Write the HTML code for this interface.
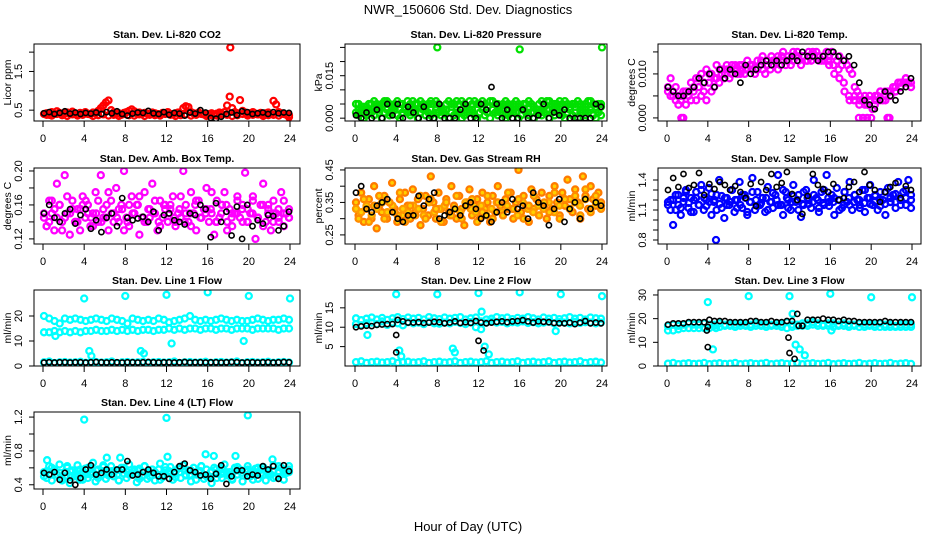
<!DOCTYPE html>
<html><head><meta charset="utf-8"><title>NWR_150606 Std. Dev. Diagnostics</title>
<style>
html,body{margin:0;padding:0;background:#fff;}
svg{display:block;font-family:"Liberation Sans",Arial,sans-serif;}
</style></head>
<body>
<svg id="chart" width="936" height="540" viewBox="0 0 936 540" xmlns="http://www.w3.org/2000/svg">
<rect x="0" y="0" width="936" height="540" fill="#fff"/>
<text x="468" y="14" text-anchor="middle" font-size="13">NWR_150606  Std. Dev. Diagnostics</text>
<text x="468" y="531" text-anchor="middle" font-size="13">Hour of Day (UTC)</text>
</svg>
<script>
const NS="http://www.w3.org/2000/svg";
const xTicks=[0,4,8,12,16,20,24];

// ---- CO2 ----
const co2Red=[0.40,0.42,0.38,0.45,0.40,0.47,0.43,0.39,0.41,0.44,0.40,0.46,0.42,0.38,0.43,0.40,0.45,0.41,0.39,0.44,0.42,0.48,0.55,0.62,0.70,0.75,0.50,0.44,0.40,0.42,0.38,0.43,0.45,0.48,0.52,0.47,0.42,0.44,0.40,0.43,0.41,0.39,0.44,0.42,0.40,0.38,0.43,0.41,0.45,0.40,0.39,0.42,0.44,0.40,0.55,0.60,0.58,0.45,0.42,0.40,0.44,0.41,0.39,0.36,0.40,0.42,0.38,0.41,0.44,0.40,0.45,0.62,0.85,0.55,0.45,0.42,0.76,0.48,0.44,0.40,0.42,0.45,0.41,0.39,0.43,0.40,0.42,0.44,0.40,0.74,0.65,0.45,0.42,0.40,0.38,0.32];
const co2Red2=[0.38,0.36,0.40,0.37,0.35,0.39,0.36,0.38,0.40,0.35,0.37,0.39,0.36,0.38,0.35,0.40,0.37,0.36,0.39,0.35,0.38,0.37,0.36,0.40,0.38,0.35,0.37,0.39,0.36,0.38,0.40,0.35,0.37,0.36,0.39,0.38,0.35,0.37,0.40,0.36,0.38,0.39,0.35,0.37,0.38,0.36,0.40,0.37];
const co2OutT=[18.2];
const co2OutV=[2.12];
const co2Black=[0.42,0.45,0.40,0.43,0.47,0.41,0.44,0.40,0.43,0.41,0.44,0.40,0.45,0.42,0.47,0.40,0.36,0.41,0.44,0.43,0.48,0.42,0.40,0.45,0.38,0.43,0.41,0.36,0.44,0.41,0.50,0.44,0.30,0.28,0.33,0.40,0.44,0.37,0.47,0.45,0.40,0.42,0.44,0.40,0.45,0.42,0.44,0.43];
const co2YTicks=[0.5,1.0,1.5,2.0];
const co2YLabels=["0.5","","1.5",""];

// ---- Pressure ----
const presHi=[0.005,0.005,0.004,0.003,0.004,0.005,0.005,0.006,0.005,0.004,0.005,0.006,0.006,0.005,0.004,0.005,0.006,0.005,0.005,0.004,0.006,0.005,0.006,0.005,0.005,0.006,0.005,0.004,0.005,0.006,0.005,0.006,0.005,0.004,0.003,0.005,0.006,0.005,0.005,0.006,0.005,0.006,0.005,0.004,0.006,0.005,0.006,0.005,0.005,0.006,0.005,0.004,0.006,0.006,0.005,0.005,0.004,0.005,0.006,0.005,0.004,0.005,0.006,0.005,0.004,0.005,0.005,0.006,0.005,0.004,0.003,0.005,0.006,0.005,0.006,0.006,0.005,0.004,0.005,0.006,0.005,0.006,0.005,0.004,0.005,0.005,0.006,0.005,0.004,0.005,0.006,0.006,0.005,0.004,0.005,0.005];
const presLo=[0.002,0.001,0.002,0.000,0.001,0.003,0.002,0.001,0.003,0.002,0.000,0.002,0.003,0.001,0.002,0.003,0.001,0.000,0.002,0.003,0.002,0.001,0.003,0.002,0.000,0.002,0.003,0.001,0.002,0.001,0.000,0.003,0.002,0.001,0.002,0.003,0.000,0.002,0.001,0.003,0.002,0.000,0.001,0.002,0.003,0.002,0.001,0.000,0.002,0.003,0.001,0.002,0.000,0.003,0.002,0.001,0.002,0.003,0.000,0.001,0.002,0.003,0.002,0.000,0.001,0.003,0.002,0.001,0.002,0.000,0.003,0.002,0.001,0.002,0.003,0.000,0.002,0.001,0.003,0.002,0.001,0.000,0.002,0.003,0.001,0.002,0.000,0.003,0.002,0.001,0.002,0.003,0.001,0.000,0.002,0.001];
const presMid=[0.003,0.004,0.002,0.004,0.003,0.005,0.002,0.004,0.003,0.004,0.002,0.003,0.004,0.003,0.005,0.002,0.004,0.003,0.004,0.002,0.003,0.004,0.003,0.005,0.004,0.002,0.003,0.004,0.003,0.005,0.002,0.004,0.003,0.004,0.002,0.003,0.004,0.003,0.005,0.002,0.004,0.003,0.004,0.002,0.003,0.004,0.003,0.004];
const presOutT=[8,16,24];
const presOutV=[0.0250,0.0243,0.0250];
const presBlack=[0.001,0.000,0.002,0.000,0.003,0.000,0.005,0.001,0.005,0.000,0.004,0.002,0.000,0.004,0.000,0.000,0.005,0.000,0.000,0.000,0.003,0.005,0.000,0.000,0.005,0.003,0.011,0.005,0.000,0.003,0.000,0.000,0.003,0.000,0.000,0.001,0.005,0.000,0.002,0.001,0.003,0.000,0.000,0.000,0.000,0.000,0.005,0.004];
const presYTicks=[0,0.005,0.010,0.015,0.020,0.025];
const presYLabels=["0.000","","","0.015","",""];

// ---- Li-820 Temp ----
const tempMag=[0.007,0.009,0.006,0.007,0.005,0.004,0.006,0.003,0.005,0.004,0.006,0.004,0.007,0.005,0.006,0.004,0.008,0.006,0.007,0.009,0.008,0.010,0.009,0.011,0.009,0.010,0.011,0.010,0.012,0.011,0.010,0.011,0.012,0.011,0.010,0.011,0.012,0.011,0.010,0.012,0.011,0.012,0.013,0.011,0.012,0.013,0.012,0.013,0.012,0.013,0.014,0.013,0.012,0.014,0.013,0.014,0.013,0.014,0.015,0.014,0.013,0.014,0.015,0.014,0.015,0.014,0.013,0.014,0.012,0.013,0.012,0.011,0.010,0.007,0.006,0.005,0.004,0.005,0.003,0.004,0.002,0.004,0.005,0.006,0.004,0.005,0.006,0.005,0.007,0.006,0.008,0.007,0.008,0.009,0.008,0.007];
const tempMag2=[0.006,0.005,0.003,0.005,0.006,0.007,0.009,0.008,0.010,0.009,0.011,0.010,0.011,0.012,0.010,0.011,0.012,0.011,0.013,0.012,0.014,0.013,0.014,0.013,0.014,0.015,0.014,0.013,0.015,0.014,0.014,0.013,0.012,0.011,0.008,0.005,0.004,0.003,0.004,0.005,0.003,0.004,0.006,0.005,0.007,0.008,0.009,0.007];
const tempMag3=[0.005,0.004,0.005,0.006,0.008,0.009,0.010,0.011,0.010,0.012,0.011,0.012,0.012,0.011,0.012,0.013,0.012,0.013,0.014,0.013,0.013,0.014,0.015,0.014,0.015,0.014,0.014,0.015,0.014,0.013,0.013,0.012,0.010,0.009,0.006,0.004,0.005,0.004,0.003,0.004,0.005,0.006,0.004,0.006,0.006,0.007,0.008,0.008];
const tempOutT=[1.4,1.6,18.8,19.2,19.6,20.0,21.6,21.8];
const tempOutV=[0,0,0,0,0,0,0,0];
const tempBlack=[0.007,0.006,0.005,0.005,0.006,0.007,0.009,0.008,0.010,0.007,0.011,0.009,0.011,0.010,0.008,0.012,0.010,0.011,0.012,0.013,0.012,0.013,0.012,0.013,0.014,0.013,0.015,0.014,0.014,0.013,0.014,0.015,0.015,0.014,0.013,0.014,0.012,0.008,0.004,0.003,0.002,0.004,0.006,0.005,0.004,0.006,0.007,0.009];
const tempYTicks=[0,0.005,0.010,0.015];
const tempYLabels=["0.000","","0.010",""];

// ---- Amb Box Temp ----
const ambMag=[0.145,0.135,0.165,0.150,0.130,0.185,0.160,0.140,0.195,0.150,0.125,0.165,0.140,0.155,0.130,0.170,0.145,0.160,0.135,0.150,0.175,0.140,0.195,0.155,0.145,0.130,0.165,0.150,0.180,0.140,0.160,0.200,0.145,0.135,0.170,0.150,0.160,0.125,0.145,0.175,0.140,0.155,0.185,0.150,0.130,0.165,0.145,0.160,0.140,0.155,0.170,0.135,0.150,0.145,0.200,0.160,0.140,0.175,0.150,0.130,0.165,0.145,0.155,0.180,0.140,0.150,0.125,0.165,0.145,0.160,0.175,0.140,0.155,0.135,0.150,0.170,0.145,0.160,0.198,0.140,0.150,0.165,0.120,0.145,0.160,0.185,0.140,0.155,0.130,0.165,0.150,0.145,0.175,0.135,0.150,0.145];
const ambMag2=[0.150,0.140,0.155,0.160,0.145,0.150,0.140,0.155,0.165,0.145,0.150,0.140,0.160,0.150,0.145,0.155,0.140,0.150,0.160,0.145,0.155,0.150,0.140,0.160,0.150,0.145,0.155,0.140,0.150,0.160,0.145,0.150,0.155,0.140,0.150,0.160,0.145,0.150,0.155,0.140,0.150,0.145,0.160,0.150,0.140,0.155,0.150,0.145];
const ambMag3=[0.135,0.165,0.145,0.130,0.170,0.155,0.140,0.160,0.150,0.135,0.165,0.145,0.175,0.140,0.155,0.130,0.160,0.150,0.170,0.140,0.145,0.165,0.135,0.155,0.160,0.140,0.170,0.150,0.135,0.165,0.145,0.155,0.175,0.140,0.160,0.130,0.150,0.165,0.140,0.155,0.170,0.145,0.135,0.160,0.150,0.140,0.165,0.155];
const ambBlack=[0.150,0.160,0.145,0.140,0.150,0.155,0.138,0.148,0.155,0.132,0.142,0.128,0.145,0.150,0.135,0.168,0.145,0.142,0.144,0.146,0.140,0.152,0.130,0.148,0.150,0.142,0.140,0.137,0.150,0.148,0.160,0.155,0.122,0.162,0.140,0.152,0.124,0.158,0.120,0.160,0.135,0.142,0.138,0.148,0.147,0.130,0.135,0.152];
const ambYTicks=[0.12,0.14,0.16,0.18,0.20];
const ambYLabels=["0.12","","0.16","","0.20"];

// ---- Gas Stream RH ----
const rhOrange=[0.35,0.31,0.38,0.29,0.33,0.36,0.30,0.40,0.27,0.34,0.32,0.37,0.30,0.35,0.41,0.33,0.29,0.36,0.31,0.38,0.34,0.30,0.39,0.32,0.36,0.28,0.33,0.37,0.31,0.43,0.35,0.30,0.38,0.33,0.29,0.36,0.32,0.40,0.34,0.30,0.37,0.33,0.28,0.35,0.39,0.31,0.34,0.36,0.30,0.38,0.33,0.35,0.29,0.37,0.32,0.40,0.34,0.31,0.36,0.33,0.38,0.30,0.35,0.45,0.32,0.37,0.34,0.29,0.39,0.33,0.36,0.31,0.38,0.34,0.30,0.37,0.33,0.40,0.35,0.31,0.38,0.34,0.42,0.36,0.32,0.39,0.35,0.30,0.43,0.37,0.33,0.40,0.36,0.34,0.38,0.35];
const rhOrange2=[0.33,0.32,0.34,0.31,0.33,0.35,0.32,0.34,0.31,0.33,0.32,0.34,0.33,0.31,0.35,0.32,0.33,0.34,0.31,0.33,0.32,0.35,0.33,0.32,0.34,0.31,0.33,0.35,0.32,0.34,0.33,0.31,0.35,0.33,0.32,0.34,0.33,0.35,0.32,0.34,0.36,0.33,0.35,0.34,0.36,0.33,0.35,0.34];
const rhOrange3=[0.30,0.36,0.29,0.34,0.37,0.30,0.35,0.32,0.38,0.29,0.34,0.31,0.37,0.30,0.36,0.33,0.29,0.35,0.31,0.37,0.30,0.34,0.36,0.29,0.32,0.37,0.30,0.35,0.31,0.38,0.33,0.36,0.30,0.34,0.37,0.31,0.35,0.32,0.38,0.30,0.36,0.33,0.37,0.31,0.39,0.32,0.37,0.33];
const rhBlack=[0.38,0.40,0.33,0.32,0.34,0.35,0.36,0.32,0.30,0.29,0.31,0.31,0.37,0.34,0.36,0.38,0.30,0.31,0.32,0.33,0.31,0.34,0.35,0.33,0.30,0.31,0.29,0.32,0.35,0.32,0.36,0.33,0.34,0.30,0.38,0.35,0.34,0.28,0.33,0.36,0.29,0.33,0.35,0.30,0.36,0.33,0.35,0.34];
const rhYTicks=[0.25,0.30,0.35,0.40,0.45];
const rhYLabels=["0.25","","0.35","","0.45"];

// ---- Sample Flow ----
const flowBlue=[1.15,1.20,0.95,1.10,1.25,1.05,1.18,1.30,1.12,1.22,1.08,1.28,1.15,1.35,1.10,1.20,1.32,1.05,1.18,1.25,1.40,1.12,1.02,1.22,1.15,1.30,1.08,1.20,1.38,1.12,1.25,1.05,1.18,1.42,1.10,1.28,1.15,1.22,1.08,1.33,1.18,1.12,1.25,1.45,1.15,1.05,1.28,1.20,1.10,1.35,1.18,1.25,1.03,1.15,1.30,1.20,1.12,1.40,1.22,1.08,1.28,1.15,1.45,1.18,1.25,1.05,1.32,1.20,1.12,1.28,1.18,1.38,1.10,1.25,1.20,1.15,1.30,1.08,1.22,1.35,1.15,1.25,1.10,1.28,1.20,1.05,1.32,1.18,1.25,1.12,1.38,1.20,1.28,1.15,1.40,1.12];
const flowBlue2=[1.18,1.20,1.15,1.22,1.17,1.20,1.15,1.22,1.18,1.20,1.16,1.22,1.18,1.20,1.15,1.22,1.18,1.20,1.17,1.22,1.18,1.20,1.15,1.22,1.18,1.20,1.16,1.22,1.18,1.20,1.17,1.22,1.18,1.20,1.15,1.22,1.18,1.20,1.17,1.22,1.18,1.20,1.16,1.22,1.18,1.20,1.22,1.25];
const flowBlue3=[1.10,1.25,1.12,1.28,1.08,1.22,1.30,1.14,1.26,1.10,1.24,1.15,1.30,1.12,1.25,1.08,1.28,1.14,1.22,1.10,1.27,1.15,1.30,1.12,1.24,1.10,1.28,1.16,1.25,1.12,1.30,1.14,1.22,1.10,1.28,1.15,1.25,1.12,1.30,1.16,1.24,1.14,1.28,1.18,1.26,1.15,1.30,1.20];
const flowOutT=[4.8];
const flowOutV=[0.80];
const flowBlack=[1.30,1.42,1.33,1.46,1.32,1.35,1.47,1.25,1.36,1.31,1.38,1.35,1.30,1.34,1.28,1.22,1.36,1.14,1.38,1.30,1.46,1.33,1.37,1.48,1.26,1.20,1.06,1.24,1.46,1.35,1.31,1.28,1.36,1.20,1.22,1.33,1.38,1.28,1.48,1.35,1.30,1.18,1.28,1.33,1.37,1.22,1.34,1.30];
const flowYTicks=[0.8,0.9,1.0,1.1,1.2,1.3,1.4];
const flowYLabels=["0.8","","","1.1","","","1.4"];

// ---- Line 1 ----
const l1Upper=[20,19,18,17,19,18.5,19,18.5,18,18.5,19,18.5,18,19,18.5,18,17,19,18.5,18,18.5,18,19,18.5,17.5,18,18.5,19,20,18.5,18,18.5,18,18.5,19,18.5,18,18.5,18,18,18.5,19,18.5,18,18.5,18.5,19,18.5];
const l1Lower=[13.5,13.5,14,13.5,14,13.5,14,13.5,14,14,14.5,14,14,14.5,14,14.5,14,14.5,14,14.5,14.5,14,14.5,14.5,15,14.5,15,14.5,15,15,14.5,15,15,14.5,15,15,14.5,15,15,15,14.5,15,15,15,15,14.5,15,15];
const l1Low=[1.5,1.8,1.2,1.5,1.6,1.4,1.5,1.7,1.3,1.5,1.6,1.4,1.5,1.8,1.2,1.5,1.6,1.4,1.5,1.7,1.3,1.5,1.6,1.4,1.5,1.8,1.2,1.5,1.6,1.4,1.5,1.7,1.3,1.5,1.6,1.4,1.5,1.8,1.2,1.5,1.6,1.4,1.5,1.7,1.3,1.5,1.6,1.4];
const l1OutT=[1.2,4,4.5,4.7,8,9.5,9.8,12,12.5,16,19.5,20,24];
const l1OutV=[12,27,6,4,28,6,5,28.5,9,29.5,10,28,27];
const l1Black=[1.4,1.5,1.4,1.5,1.5,1.4,1.5,1.5,1.4,1.5,1.6,1.5,1.4,1.5,1.5,1.4,1.5,1.5,1.4,1.5,1.6,1.5,1.4,1.5,1.5,1.4,1.5,1.6,1.4,1.5,1.5,1.4,1.5,1.5,1.4,1.5,1.6,1.5,1.4,1.5,1.5,1.4,1.5,1.5,1.4,1.5,1.6,1.5];
const l1YTicks=[0,10,20];
const l1YLabels=["0","10","20"];

// ---- Line 2 ----
const l2BandA=[12.3,11.8,12.2,12.5,12,12.4,11.9,12.3,12.6,12.1,12.5,12.2,12.4,12,12.6,12.3,12.1,12.5,12.2,12.4,12.6,12,12.3,12.5,11.5,12,12.2,12.6,12.3,12.5,12.1,12.4,12.2,12.6,12.3,12,12.5,12.2,12.4,12.1,12.3,12.6,12.2,12.4,12,12.5,12.3,12.2];
const l2BandB=[10.8,10.5,11,11.2,10.8,11.5,10.6,11.2,11,10.5,11.3,11,11.2,10.8,11.4,11,10.9,11.2,11,11.4,11.1,10.8,11.3,10,9.5,11.2,11.5,11.2,11.4,11,11.3,11.2,11.5,11.1,11.3,11,11.2,11.4,11,11.3,11.2,11,11.4,11.1,11.3,11.2,11,11.2];
const l2Low=[1,1.2,0.8,1,1.1,0.9,1,1.2,0.8,1,1.1,0.9,1,1.2,0.8,1,1.1,0.9,1,1.2,0.8,1,1.1,0.9,1,1.2,0.8,1,1.1,0.9,1,1.2,0.8,1,1.1,0.9,1,1.2,0.8,1,1.1,0.9,1,1.2,0.8,1,1.1,0.9];
const l2OutT=[1.2,4,4.3,4.5,8,9.5,9.7,12,12.3,12.6,13,16,19.5,20,24];
const l2OutV=[8,18.5,4,2.5,18.5,4.5,3.5,18.8,14,5,3,19,9,18.5,18];
const l2Black=[10,10.2,10.4,10.3,10.6,10.7,10.8,10.8,11.9,11.5,11.2,11.2,11.3,11.1,11.2,11.4,11.3,11,11.2,11.5,11.1,11.3,11.1,11.6,11.2,11,11.2,11.4,11.5,11.3,11.5,11.6,11.8,11.5,11.2,11.5,11.4,11.3,11.1,11,11,11.2,10.8,11.2,11.6,11,11.2,11];
const l2BlackOutT=[4,4,12,12.5];
const l2BlackOutV=[3.5,8,6.5,4];
const l2YTicks=[5,10,15];
const l2YLabels=["5","10","15"];

// ---- Line 3 ----
const l3BandA=[17,17.5,17,17.5,18,17.5,17.5,18,17.5,17.5,18,17.5,17.5,17.5,18,17.5,17.5,18,17.5,17.5,17.5,18,17.5,18.5,17.5,17.5,18,18,18.5,18,17.5,18,18,17.5,18,17.5,17.5,18,17.5,17.5,17.5,18,17.5,17.5,17,17.5,17.5,17.5];
const l3BandB=[15,15,15.5,16,16,16,16,16,16,17,16.5,17,17,16.5,17,17,16.5,17,17,16.5,17,17,16.5,16,16.5,17,17,17,17.5,17,17,17,16.5,17,17,16.5,17,16.5,16.5,17,16.5,16.5,16.5,16.5,16.5,16.5,16.5,16.5];
const l3Low=[1,1.3,0.8,1,1.2,0.9,1,1.3,0.8,1,1.2,0.9,1,1.3,0.8,1,1.2,0.9,1,1.3,0.8,1,1.2,0.9,1,1.3,0.8,1,1.2,0.9,1,1.3,0.8,1,1.2,0.9,1,1.3,0.8,1,1.2,0.9,1,1.3,0.8,1,1.2,0.9];
const l3OutT=[4,4.5,4.8,8,12,12.3,12.6,13,13.5,16,16.1,20,24];
const l3OutV=[27,7,16,29.5,29.5,22,9,7,4.5,30.5,15,29,29];
const l3Black=[17.5,18,18,18,18.5,18.5,18.5,18.5,19.5,19,19,19,18.5,18.5,18.5,18.5,19,19,18.5,18.5,19,18.5,18.5,19,19,22,17,19.5,19.5,19.5,20,19.5,19.5,19,19.5,19,19,18.5,18.5,18.5,18.5,18.5,19,18.5,18.5,18.5,18.5,18.5];
const l3BlackOutT=[3.9,4,4,11.9,12,12.5,12.9];
const l3BlackOutV=[15,16.5,8,12,5.5,3,17];
const l3YTicks=[0,10,20,30];
const l3YLabels=["0","10","20","30"];

// ---- Line 4 ----
const l4Cyan=[0.50,0.56,0.62,0.45,0.58,0.52,0.64,0.47,0.55,0.60,0.42,0.57,0.50,0.63,0.46,0.55,0.59,0.48,0.52,0.66,0.44,0.58,0.51,0.61,0.47,0.55,0.62,0.50,0.57,0.45,0.60,0.53,0.48,0.64,0.52,0.56,0.43,0.59,0.50,0.62,0.47,0.55,0.58,0.45,0.52,0.65,0.49,0.57,0.54,0.61,0.46,0.55,0.59,0.48,0.63,0.51,0.57,0.44,0.60,0.52,0.55,0.62,0.47,0.58,0.50,0.42,0.60,0.53,0.57,0.48,0.64,0.51,0.55,0.46,0.60,0.52,0.58,0.44,0.56,0.62,0.50,0.55,0.59,0.47,0.53,0.61,0.45,0.57,0.52,0.63,0.49,0.56,0.60,0.46,0.54,0.62];
const l4Cyan2=[0.55,0.52,0.57,0.54,0.50,0.56,0.53,0.58,0.52,0.55,0.57,0.51,0.54,0.56,0.52,0.58,0.55,0.53,0.57,0.51,0.55,0.54,0.58,0.52,0.56,0.53,0.55,0.57,0.52,0.54,0.56,0.51,0.55,0.58,0.53,0.55,0.52,0.57,0.54,0.56,0.52,0.55,0.58,0.53,0.56,0.54,0.57,0.55];
const l4Cyan3=[0.48,0.60,0.52,0.45,0.62,0.50,0.57,0.46,0.60,0.53,0.48,0.63,0.51,0.56,0.45,0.60,0.52,0.58,0.47,0.62,0.50,0.55,0.46,0.61,0.53,0.49,0.60,0.52,0.57,0.46,0.62,0.50,0.56,0.48,0.60,0.53,0.47,0.61,0.51,0.58,0.46,0.60,0.52,0.56,0.48,0.62,0.54,0.58];
const l4OutT=[0.4,4,6.2,7.5,12,12.1,15.8,16.6,18.7,19.9,22.3];
const l4OutV=[0.69,1.17,0.72,0.72,1.19,0.73,0.76,0.74,0.74,1.22,0.70];
const l4Black=[0.54,0.52,0.55,0.46,0.54,0.45,0.40,0.48,0.58,0.63,0.52,0.54,0.58,0.52,0.58,0.58,0.68,0.51,0.52,0.55,0.58,0.54,0.50,0.50,0.47,0.55,0.62,0.65,0.57,0.55,0.51,0.52,0.47,0.53,0.63,0.41,0.50,0.57,0.57,0.50,0.52,0.51,0.62,0.58,0.62,0.47,0.63,0.56];
const l4YTicks=[0.4,0.6,0.8,1.0,1.2];
const l4YLabels=["0.4","","0.8","","1.2"];

const svg=document.getElementById('chart');
function mk(tag,attrs,parent){const e=document.createElementNS(NS,tag);for(const k in attrs)e.setAttribute(k,attrs[k]);(parent||svg).appendChild(e);return e;}

const cols=[{l:34,r:300,x0:43,x24:290},{l:345,r:607,x0:355,x24:602},{l:658,r:921,x0:667,x24:912}];
const rows=[{t:44,b:121},{t:168,b:244},{t:290,b:366},{t:412,b:489}];

function panel(key,col,row,title,ylab,ymin,ymax,yt,yl,series){
  const C=cols[col],R=rows[row];
  const g=mk('g',{});
  
  
  const xs=t=>C.x0+(C.x24-C.x0)*t/24;
  const ys=v=>R.b-(v-ymin)/(ymax-ymin)*(R.b-R.t);
  const clip=mk('clipPath',{id:'clip-'+key},g);
  mk('rect',{x:C.l,y:R.t,width:C.r-C.l,height:R.b-R.t},clip);
  const pts=mk('g',{'clip-path':'url(#clip-'+key+')'},g);
  
  
  series.forEach(s=>{
    const n=s.v.length;
    const off=s.off||0;
    for(let i=0;i<n;i++){
      const t=s.t?s.t[i]:0.1+off+i*(23.8-off)/(n-1);
      const c=mk('circle',{cx:xs(t).toFixed(1),cy:ys(s.v[i]).toFixed(1),r:s.r,fill:s.fill||'none',stroke:s.c,'stroke-width':s.w},pts);
      
      
    }
  });
  const box=mk('rect',{x:C.l,y:R.t,width:C.r-C.l,height:R.b-R.t,fill:'none',stroke:'#000','stroke-width':1},g);
  
  
  const tt=mk('text',{x:(C.l+C.r)/2,y:R.t-6,'text-anchor':'middle','font-size':'10.5','font-weight':'bold'},g);
  tt.textContent=title;
  
  
  xTicks.forEach(t=>{
    const x=xs(t);
    const tk=mk('line',{x1:x,x2:x,y1:R.b,y2:R.b+6,stroke:'#000'},g);
    
    
    const lb=mk('text',{x:x,y:R.b+21,'text-anchor':'middle','font-size':'11'},g);
    lb.textContent=String(t);
    
    
  });
  yt.forEach((v,i)=>{
    const y=ys(v);
    const tk=mk('line',{x1:C.l-5,x2:C.l,y1:y,y2:y,stroke:'#000'},g);
    
    
    if(yl[i]){
      const lx=C.l-12;
      const lb=mk('text',{x:lx,y:y,'text-anchor':'middle','font-size':'11',transform:'rotate(-90 '+lx+' '+y+')'},g);
      lb.textContent=yl[i];
      
      
    }
  });
  const ax=C.l-23,ay=(R.t+R.b)/2;
  const yt2=mk('text',{x:ax,y:ay,'text-anchor':'middle','font-size':'10.5',transform:'rotate(-90 '+ax+' '+ay+')'},g);
  yt2.textContent=ylab;
  
  
}
const K='#000';
const blk=(v,t)=>({name:'black',v:v,t:t,c:K,r:2.6,w:1.6});
const col=(name,v,c,t,fill,off)=>({name:name,v:v,t:t,c:c,r:3,w:2.3,fill:fill,off:off});

panel('co2',0,0,'Stan. Dev. Li-820 CO2','Licor ppm',0.22,2.21,co2YTicks,co2YLabels,
  [col('red',co2Red,'#f00'),col('red2',co2Red2,'#f00',undefined,undefined,0.25),col('red-outlier',co2OutV,'#f00',co2OutT),blk(co2Black)]);
panel('pressure',1,0,'Stan. Dev. Li-820 Pressure','kPa',-0.001,0.0262,presYTicks,presYLabels,
  [col('green-hi',presHi,'#00e000'),col('green-lo',presLo,'#00e000'),col('green-mid',presMid,'#00e000',undefined,undefined,0.25),col('green-outlier',presOutV,'#00e000',presOutT),blk(presBlack)]);
panel('li820-temp',2,0,'Stan. Dev. Li-820 Temp.','degrees C',-0.0007,0.0168,tempYTicks,tempYLabels,
  [col('magenta',tempMag,'#f0f'),col('magenta2',tempMag2,'#f0f'),col('magenta3',tempMag3,'#f0f',undefined,undefined,0.25),col('magenta-zero',tempOutV,'#f0f',tempOutT),blk(tempBlack)]);
panel('amb-temp',0,1,'Stan. Dev. Amb. Box Temp.','degrees C',0.114,0.2035,ambYTicks,ambYLabels,
  [col('magenta',ambMag,'#f0f'),col('magenta2',ambMag2,'#f0f'),col('magenta3',ambMag3,'#f0f',undefined,undefined,0.25),blk(ambBlack)]);
panel('rh',1,1,'Stan. Dev. Gas Stream RH','percent',0.222,0.456,rhYTicks,rhYLabels,
  [col('orange',rhOrange,'#ff7a00',undefined,'#ffd000'),col('orange2',rhOrange2,'#ff9a00',undefined,'#ffd000'),col('orange3',rhOrange3,'#ff8a00',undefined,'#ffd000',0.25),blk(rhBlack)]);
panel('sample-flow',2,1,'Stan. Dev. Sample Flow','ml/min',0.76,1.52,flowYTicks,flowYLabels,
  [col('blue',flowBlue,'#00f'),col('blue2',flowBlue2,'#00f'),col('blue3',flowBlue3,'#00f',undefined,undefined,0.25),col('blue-outlier',flowOutV,'#00f',flowOutT),blk(flowBlack)]);
panel('line1',0,2,'Stan. Dev. Line 1 Flow','ml/min',0,30.4,l1YTicks,l1YLabels,
  [col('cyan-upper',l1Upper,'#0ff'),col('cyan-lower',l1Lower,'#0ff'),col('cyan-low',l1Low,'#0ff'),col('cyan-outlier',l1OutV,'#0ff',l1OutT),blk(l1Black)]);
panel('line2',1,2,'Stan. Dev. Line 2 Flow','ml/min',0,19.6,l2YTicks,l2YLabels,
  [col('cyan-a',l2BandA,'#0ff'),col('cyan-b',l2BandB,'#0ff'),col('cyan-low',l2Low,'#0ff'),col('cyan-outlier',l2OutV,'#0ff',l2OutT),blk(l2Black),blk(l2BlackOutV,l2BlackOutT)]);
panel('line3',2,2,'Stan. Dev. Line 3 Flow','ml/min',0,32.1,l3YTicks,l3YLabels,
  [col('cyan-a',l3BandA,'#0ff'),col('cyan-b',l3BandB,'#0ff'),col('cyan-low',l3Low,'#0ff'),col('cyan-outlier',l3OutV,'#0ff',l3OutT),blk(l3Black),blk(l3BlackOutV,l3BlackOutT)]);
panel('line4',0,3,'Stan. Dev. Line 4 (LT) Flow','ml/min',0.35,1.26,l4YTicks,l4YLabels,
  [col('cyan',l4Cyan,'#0ff'),col('cyan2',l4Cyan2,'#0ff'),col('cyan3',l4Cyan3,'#0ff',undefined,undefined,0.25),col('cyan-outlier',l4OutV,'#0ff',l4OutT),blk(l4Black)]);
</script>
</body></html>
